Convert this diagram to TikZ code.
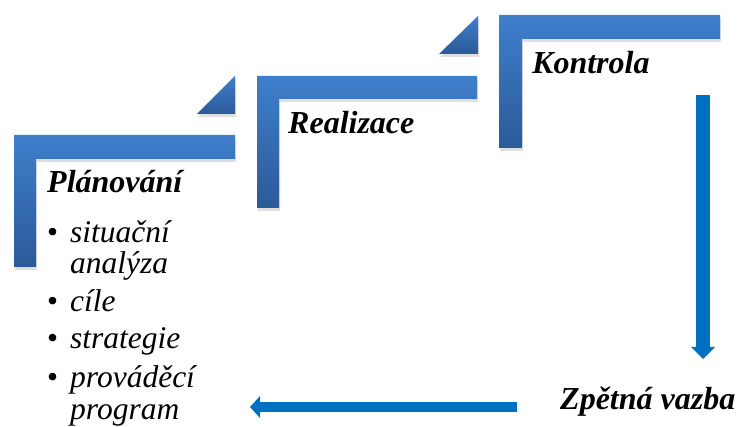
\documentclass[tikz,border=0pt]{standalone}
\usepackage{fontspec}
\setmainfont{Liberation Serif}
\usetikzlibrary{shadows,arrows.meta}
\definecolor{stepTop}{HTML}{3F7FCC}
\definecolor{stepBot}{HTML}{2B5A98}
\definecolor{arrowBlue}{HTML}{0070C0}
\tikzset{
  stepshape/.style={top color=stepTop, bottom color=stepBot, draw=none,
    drop shadow={opacity=0.25, shadow xshift=1pt, shadow yshift=-3pt}},
  title/.style={anchor=base west, inner sep=0pt, font=\fontsize{32}{33}\selectfont\bfseries\itshape},
  itemtext/.style={anchor=base west, inner sep=0pt, font=\fontsize{31.5}{32}\selectfont\itshape},
  bul/.style={anchor=base west, inner sep=0pt, font=\fontsize{31.5}{32}\selectfont},
  flowv/.style={draw=arrowBlue, line width=14pt, -{Triangle[width=24pt,length=12pt,line width=0pt]}},
  flowh/.style={draw=arrowBlue, line width=10pt, -{Triangle[width=22pt,length=10pt,line width=0pt]}}
}
\begin{document}
\begin{tikzpicture}[x=1pt,y=-1pt]
\useasboundingbox (0,0) rectangle (737,427);
% steps
\path[stepshape] (14,135) -- (235,135) -- (235,159) -- (36,159) -- (36,267) -- (14,267) -- cycle;
\path[stepshape] (197,114) -- (235,76) -- (235,114) -- cycle;
\path[stepshape] (257,76) -- (477,76) -- (477,99) -- (279,99) -- (279,208) -- (257,208) -- cycle;
\path[stepshape] (439,54) -- (478,16) -- (478,54) -- cycle;
\path[stepshape] (499,15) -- (720,15) -- (720,39) -- (522,39) -- (522,148) -- (499,148) -- cycle;
% titles
\node[title] (plan) at (47,193) {Plánování};
\node[title] (real) at (288,134) {Realizace};
\node[title] (kont) at (532,74) {Kontrola};
\node[title] (zpet) at (560,410) {Zpětná vazba};
% bullets
\node[bul] (b1) at (47,243) {•};
\node[itemtext] (i1a) at (70,243) {situační};
\node[itemtext] (i1b) at (70,274) {analýza};
\node[bul] (b2) at (47,312) {•};
\node[itemtext] (i2) at (70,312) {cíle};
\node[bul] (b3) at (47,349) {•};
\node[itemtext] (i3) at (70,349) {strategie};
\node[bul] (b4) at (47,388) {•};
\node[itemtext] (i4a) at (70,388) {prováděcí};
\node[itemtext] (i4b) at (70,420) {program};
% arrows
\coordinate (vtop) at (703,95);
\coordinate (vend) at (703,359);
\coordinate (hstart) at (517,407);
\coordinate (hend) at (250,407);
\draw[flowv] (vtop) -- (vend);
\draw[flowh] (hstart) -- (hend);
\end{tikzpicture}
\end{document}
